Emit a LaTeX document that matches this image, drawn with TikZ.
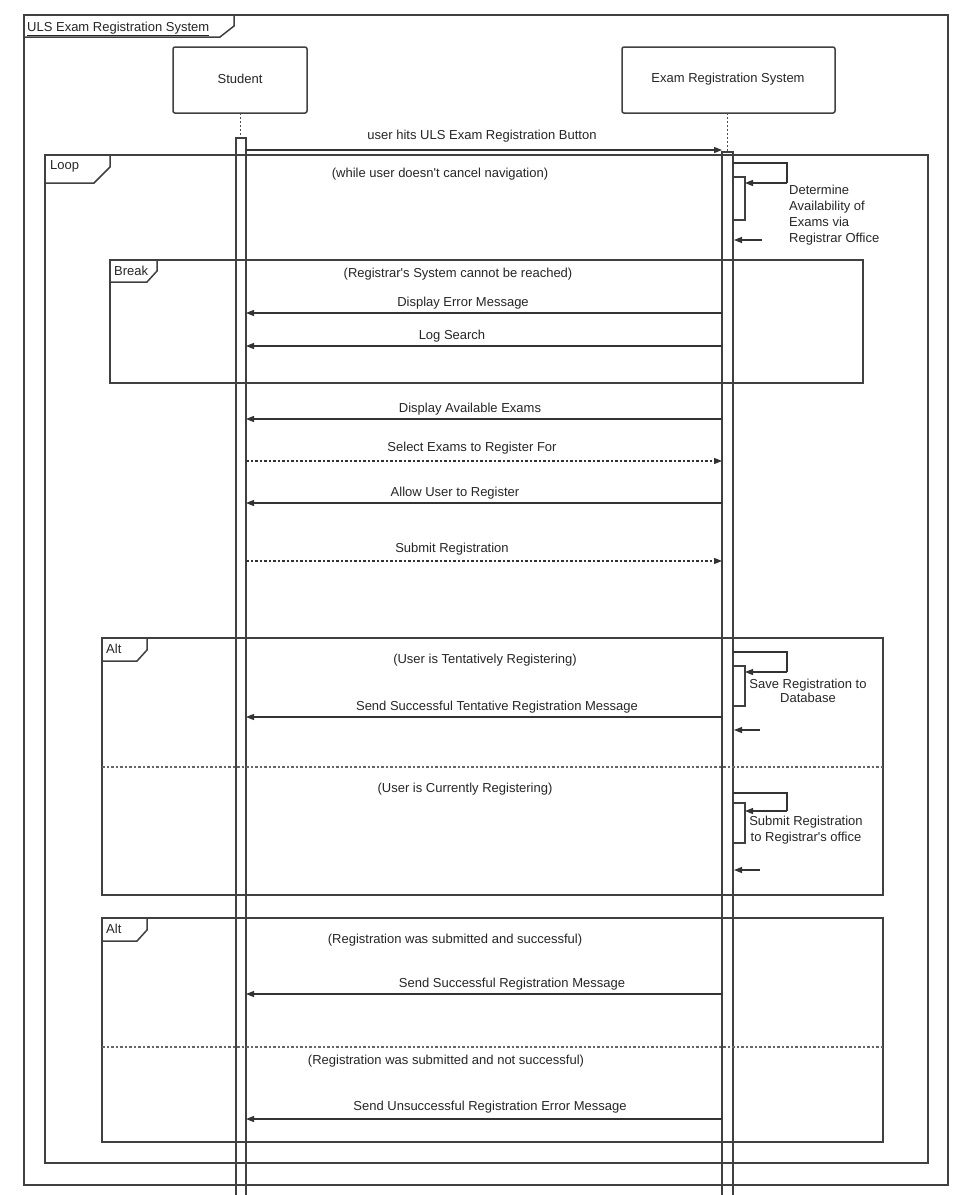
\documentclass[tikz,border=0pt]{standalone}
\usepackage{fontspec}
\newfontfamily\lbfont{Liberation Sans}
\usetikzlibrary{arrows.meta}
\begin{document}
\begin{tikzpicture}[x=1pt,y=-1pt]
\tikzset{
  frm/.style={draw=black!75, line width=1.5pt},
  barbox/.style={draw=black!75, line width=1.2pt},
  msg/.style={draw=black!80, line width=1.1pt, -{Triangle[length=8pt,width=6pt]}},
  dmsg/.style={msg, dash pattern=on 2.5pt off 2pt},
  sep/.style={draw=black!60, line width=1.1pt, dash pattern=on 2.5pt off 2pt},
  lbl/.style={font=\lbfont\fontsize{13}{16}\selectfont, inner sep=1pt, text=black!85},
  lblc/.style={lbl, align=center},
  lbll/.style={lbl, align=left, anchor=west},
  life/.style={draw=black!70, line width=1pt, dash pattern=on 2pt off 2pt},
  actor/.style={draw=black!75, line width=1.5pt, rounded corners=2pt},
}
\useasboundingbox (0,0) rectangle (967,1195);
\fill[white] (0,0) rectangle (967,1195);

% outer frame
\draw[frm] (24,15) rectangle (948,1185);
\draw[frm] (24,37) -- (220,37) -- (234,26) -- (234,15);
\node[lbl, anchor=west] (title) at (26,29) {\underline{ULS Exam Registration System}};

% actors
\draw[actor] (173,47) rectangle (307,113);
\node[lbl] (student) at (240,79) {Student};
\draw[actor] (622,47) rectangle (835,113);
\node[lbl] (ers) at (728,79) {Exam Registration System};
\coordinate (sl1) at (240,113); \coordinate (sl2) at (240,138);
\coordinate (el1) at (727,113); \coordinate (el2) at (727,152);
\draw[life] (sl1) -- (sl2);
\draw[life] (el1) -- (el2);

% activation bars
\draw[barbox] (236,1196) -- (236,138) -- (246,138) -- (246,1196);
\draw[barbox] (722,1196) -- (722,152) -- (733,152) -- (733,1196);

% message 1
\node[lbl] (m1) at (482,136) {user hits ULS Exam Registration Button};
\coordinate (m1a) at (246,150); \coordinate (m1b) at (722,150);
\draw[msg] (m1a) -- (m1b);

% loop frame
\draw[frm] (45,155) rectangle (928,1163);
\draw[frm] (45,183) -- (94,183) -- (110,167) -- (110,155);
\node[lbl, anchor=west] (loop) at (49,166) {Loop};
\node[lbl] (g1) at (440,174) {(while user doesn't cancel navigation)};

% self call 1
\coordinate (s1a) at (733,163); \coordinate (s1b) at (787,183); \coordinate (s1c) at (745,183);
\draw[barbox, fill=white] (733,177) rectangle (745,220);
\draw[draw=black!80, line width=1.1pt] (s1a) -| (s1b);
\draw[msg] (s1b) -- (s1c);
\node[lbll] (sc1) at (788,215) {Determine\\Availability of\\Exams via\\Registrar Office};
\coordinate (r1a) at (762,240); \coordinate (r1b) at (734,240);
\draw[msg] (r1a) -- (r1b);

% break frame
\draw[frm] (110,260) rectangle (863,383);
\draw[frm] (110,282) -- (147,282) -- (157,271) -- (157,260);
\node[lbl, anchor=west] (brk) at (113,271) {Break};
\node[lbl] (g2) at (458,274) {(Registrar's System cannot be reached)};
\node[lbl] (m2) at (463,303) {Display Error Message};
\coordinate (m2a) at (722,313); \coordinate (m2b) at (246,313);
\draw[msg] (m2a) -- (m2b);
\node[lbl] (m3) at (452,336) {Log Search};
\coordinate (m3a) at (722,346); \coordinate (m3b) at (246,346);
\draw[msg] (m3a) -- (m3b);

% messages in loop
\node[lbl] (m4) at (470,409) {Display Available Exams};
\coordinate (m4a) at (722,419); \coordinate (m4b) at (246,419);
\draw[msg] (m4a) -- (m4b);
\node[lbl] (m5) at (472,448) {Select Exams to Register For};
\coordinate (m5a) at (246,461); \coordinate (m5b) at (722,461);
\draw[dmsg] (m5a) -- (m5b);
\node[lbl] (m6) at (455,493) {Allow User to Register};
\coordinate (m6a) at (722,503); \coordinate (m6b) at (246,503);
\draw[msg] (m6a) -- (m6b);
\node[lbl] (m7) at (452,549) {Submit Registration};
\coordinate (m7a) at (246,561); \coordinate (m7b) at (722,561);
\draw[dmsg] (m7a) -- (m7b);

% alt frame 1
\draw[frm] (102,638) rectangle (883,895);
\draw[frm] (102,661) -- (137,661) -- (147,650) -- (147,638);
\node[lbl, anchor=west] (alt1) at (105,649) {Alt};
\node[lbl] (g3) at (485,660) {(User is Tentatively Registering)};
\coordinate (s2a) at (733,652); \coordinate (s2b) at (787,672); \coordinate (s2c) at (745,672);
\draw[barbox, fill=white] (733,666) rectangle (745,706);
\draw[draw=black!80, line width=1.1pt] (s2a) -| (s2b);
\draw[msg] (s2b) -- (s2c);
\node[lblc, font=\lbfont\fontsize{13}{14}\selectfont] (sc2) at (808,691) {Save Registration to\\Database};
\coordinate (r2a) at (760,730); \coordinate (r2b) at (734,730);
\draw[msg] (r2a) -- (r2b);
\node[lbl] (m8) at (497,707) {Send Successful Tentative Registration Message};
\coordinate (m8a) at (722,717); \coordinate (m8b) at (246,717);
\draw[msg] (m8a) -- (m8b);
\coordinate (sp1a) at (102,767); \coordinate (sp1b) at (883,767);
\draw[sep] (sp1a) -- (sp1b);
\node[lbl] (g4) at (465,789) {(User is Currently Registering)};
\coordinate (s3a) at (733,793); \coordinate (s3b) at (787,811); \coordinate (s3c) at (745,811);
\draw[barbox, fill=white] (733,803) rectangle (745,843);
\draw[draw=black!80, line width=1.1pt] (s3a) -| (s3b);
\draw[msg] (s3b) -- (s3c);
\node[lblc] (sc3) at (806,830) {Submit Registration\\to Registrar's office};
\coordinate (r3a) at (760,870); \coordinate (r3b) at (734,870);
\draw[msg] (r3a) -- (r3b);

% alt frame 2
\draw[frm] (102,918) rectangle (883,1142);
\draw[frm] (102,941) -- (137,941) -- (147,930) -- (147,918);
\node[lbl, anchor=west] (alt2) at (105,929) {Alt};
\node[lbl] (g5) at (455,940) {(Registration was submitted and successful)};
\node[lbl] (m9) at (512,984) {Send Successful Registration Message};
\coordinate (m9a) at (722,994); \coordinate (m9b) at (246,994);
\draw[msg] (m9a) -- (m9b);
\coordinate (sp2a) at (102,1047); \coordinate (sp2b) at (883,1047);
\draw[sep] (sp2a) -- (sp2b);
\node[lbl] (g6) at (446,1061) {(Registration was submitted and not successful)};
\node[lbl] (m10) at (490,1107) {Send Unsuccessful Registration Error Message};
\coordinate (m10a) at (722,1119); \coordinate (m10b) at (246,1119);
\draw[msg] (m10a) -- (m10b);
\end{tikzpicture}
\end{document}
